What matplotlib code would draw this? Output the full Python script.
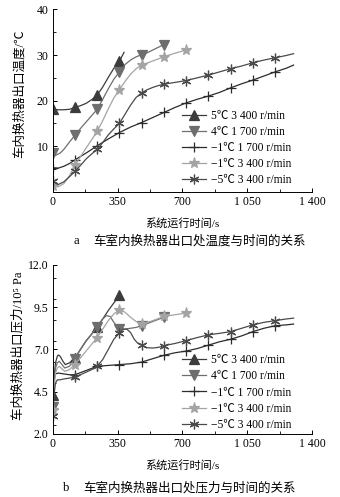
import numpy as np
import matplotlib.pyplot as plt
from matplotlib.ticker import MultipleLocator, FixedLocator

plt.rcParams['font.family'] = ['Liberation Serif', 'Noto Sans CJK SC', 'DejaVu Serif']

labels = ['5℃ 3 400 r/min', '4℃ 1 700 r/min', '−1℃ 1 700 r/min',
          '−1℃ 3 400 r/min', '−5℃ 3 400 r/min']
marker_t = [0, 120, 240, 360, 480, 600, 720, 840, 960, 1080, 1200]

# (a) 温度
t_a1 = [0, 30, 60, 90, 120, 150, 180, 210, 240, 270, 300, 330, 360, 385]
v_a1 = [18.1, 18.0, 18.0, 18.1, 18.5, 18.9, 19.4, 20.2, 21.2, 23.0, 25.1, 27.1, 28.6, 30.6]
t_a2 = [0, 15, 40, 60, 90, 120, 150, 180, 210, 240, 270, 300, 330, 360,
        390, 420, 450, 480, 510, 540, 570, 600]
v_a2 = [8.6, 8.0, 8.5, 9.3, 10.9, 12.4, 13.9, 15.3, 16.7, 18.1, 20.3, 22.6, 24.7, 26.3,
        27.9, 28.9, 29.6, 30.1, 30.5, 31.1, 31.7, 32.3]
t_a3 = [0, 30, 60, 90, 120, 180, 240, 300, 360, 420, 480, 540, 600, 660, 720,
        780, 840, 900, 960, 1020, 1080, 1140, 1200, 1260, 1300]
v_a3 = [5.3, 5.2, 5.6, 6.2, 7.0, 8.5, 10.1, 11.6, 13.0, 14.2, 15.2, 16.3, 17.4, 18.5, 19.5,
        20.3, 21.0, 21.8, 22.8, 23.7, 24.5, 25.4, 26.3, 27.1, 27.8]
t_a4 = [0, 30, 60, 90, 120, 150, 180, 210, 240, 270, 300, 330, 360, 390, 420,
        450, 480, 540, 600, 660, 720]
v_a4 = [1.3, 1.1, 1.8, 3.5, 5.8, 7.7, 9.6, 11.4, 13.3, 15.6, 18.2, 20.6, 22.4, 24.2, 25.8,
        27.0, 27.8, 28.7, 29.6, 30.4, 31.1]
t_a5 = [0, 30, 60, 90, 120, 150, 180, 210, 240, 270, 300, 330, 360, 390, 420, 450,
        480, 510, 540, 570, 600, 660, 720, 780, 840, 900, 960, 1020, 1080, 1140,
        1200, 1260, 1300]
v_a5 = [2.3, 1.6, 2.2, 3.3, 4.5, 5.8, 7.2, 8.3, 9.3, 10.8, 12.5, 13.8, 15.0, 17.0, 19.0, 20.7,
        21.7, 22.4, 22.9, 23.3, 23.6, 24.0, 24.4, 25.0, 25.6, 26.3, 27.0, 27.6, 28.3, 28.9,
        29.4, 29.9, 30.3]

# (b) 压力
t_b1 = [0, 8, 15, 25, 30, 40, 55, 68, 90, 120, 150, 180, 210, 240, 270, 300, 330, 360]
v_b1 = [4.3, 5.4, 6.2, 6.6, 6.67, 6.6, 6.3, 6.1, 6.2, 6.5, 7.0, 7.5, 7.9, 8.35, 8.8, 9.3, 9.75, 10.2]
t_b2 = [0, 8, 15, 25, 35, 50, 65, 90, 120, 150, 180, 210, 240, 270, 290, 310, 330, 360,
        390, 420, 450, 480, 540, 600]
v_b2 = [3.6, 5.0, 5.9, 6.2, 6.3, 6.1, 5.9, 6.0, 6.45, 7.0, 7.5, 7.9, 8.35, 8.8, 9.0, 8.95, 8.6, 8.2,
        8.2, 8.25, 8.3, 8.4, 8.65, 8.9]
t_b3 = [0, 8, 15, 30, 60, 90, 120, 180, 240, 300, 360, 420, 480, 540, 600, 660, 720,
        780, 840, 900, 960, 1020, 1080, 1140, 1200, 1260, 1300]
v_b3 = [3.5, 5.3, 5.55, 5.6, 5.55, 5.5, 5.5, 5.75, 6.0, 6.05, 6.1, 6.15, 6.25, 6.45, 6.65, 6.8, 6.9,
        7.05, 7.25, 7.45, 7.6, 7.8, 8.05, 8.25, 8.4, 8.45, 8.5]
t_b4 = [0, 8, 15, 25, 35, 50, 65, 90, 120, 150, 180, 210, 240, 270, 300, 330, 360, 390,
        420, 450, 480, 540, 600, 660, 720]
v_b4 = [3.4, 4.8, 5.6, 5.9, 6.0, 5.85, 5.7, 5.8, 6.1, 6.5, 6.9, 7.3, 7.7, 8.2, 8.7, 9.1, 9.35, 9.2,
        8.9, 8.65, 8.5, 8.7, 8.95, 9.05, 9.15]
t_b5 = [0, 8, 15, 25, 40, 60, 90, 120, 150, 180, 210, 240, 270, 300, 330, 360, 380, 400,
        420, 440, 460, 480, 510, 540, 570, 600, 660, 720, 780, 840, 900, 960, 1020, 1080,
        1140, 1200, 1260, 1300]
v_b5 = [3.05, 4.4, 5.0, 5.2, 5.2, 5.25, 5.3, 5.35, 5.5, 5.65, 5.8, 6.0, 6.4, 7.0, 7.6, 7.97, 8.2, 8.2,
        8.0, 7.6, 7.35, 7.25, 7.1, 7.08, 7.12, 7.22, 7.35, 7.52, 7.7, 7.86, 7.95, 8.05, 8.25, 8.45,
        8.6, 8.7, 8.8, 8.85]

colors = ['#3c3c3c', '#6e6e6e', '#2c2c2c', '#a4a4a4', '#4a4a4a']
markers = ['^', 'v', '+', '*', (6, 2, 0)]
msizes = [6.5, 6.5, 7, 8, 7]

fig = plt.figure(figsize=(3.4, 4.97), dpi=100)
ax1 = fig.add_axes([0.155, 0.614, 0.763, 0.367])
ax2 = fig.add_axes([0.155, 0.127, 0.763, 0.340])

top = [(t_a1, v_a1), (t_a2, v_a2), (t_a3, v_a3), (t_a4, v_a4), (t_a5, v_a5)]
bot = [(t_b1, v_b1), (t_b2, v_b2), (t_b3, v_b3), (t_b4, v_b4), (t_b5, v_b5)]

for ax, series in [(ax1, top), (ax2, bot)]:
    for i, (t, v) in enumerate(series):
        idx = list(np.where(np.isin(t, marker_t))[0])
        ax.plot(t, v, color=colors[i], lw=0.9, marker=markers[i], ms=msizes[i],
                mec=colors[i], mew=0.9, markevery=idx, label=labels[i])
    ax.spines['top'].set_visible(False)
    ax.spines['right'].set_visible(False)
    ax.spines['left'].set_linewidth(0.7)
    ax.spines['bottom'].set_linewidth(0.7)
    ax.set_xlim(0, 1400)
    ax.set_xticks([0, 350, 700, 1050, 1400])
    ax.set_xticklabels(['0', '350', '700', '1 050', '1 400'])
    ax.xaxis.set_minor_locator(FixedLocator([175, 525, 875, 1225]))
    ax.tick_params(direction='in', length=3, width=0.7, labelsize=8.5, pad=3)
    ax.tick_params(which='minor', direction='in', length=2, width=0.6)
    ax.set_xlabel('系统运行时间/s', fontsize=8, labelpad=7)
    ax.patch.set_alpha(0)

ax1.set_ylim(0, 40)
ax1.set_yticks([10, 20, 30, 40])
ax1.yaxis.set_minor_locator(FixedLocator([5, 15, 25, 35]))
ax1.set_ylabel('车内换热器出口温度/℃', fontsize=9)
ax1.yaxis.set_label_coords(-0.105, 0.54)

ax2.set_ylim(2.0, 12.0)
ax2.set_yticks([2.0, 4.5, 7.0, 9.5, 12.0])
ax2.set_yticklabels(['2.0', '4.5', '7.0', '9.5', '12.0'])
ax2.yaxis.set_minor_locator(MultipleLocator(1.25))
ax2.set_ylabel('车内换热器出口压力/10⁵ Pa', fontsize=9)
ax2.yaxis.set_label_coords(-0.11, 0.52)

for ax, ytop in [(ax1, 0.448), (ax2, 0.47)]:
    ax.legend(loc='upper left', bbox_to_anchor=(0.497, ytop), frameon=False,
              fontsize=8.3, numpoints=1, handlelength=2.1, handletextpad=0.45,
              labelspacing=0.35, borderpad=0, borderaxespad=0)

fig.text(76 / 340, 1 - 241 / 497, 'a', fontsize=9, ha='center', va='center')
fig.text(93 / 340, 1 - 241 / 497, '车室内换热器出口处温度与时间的关系', fontsize=9, ha='left', va='center')
fig.text(66 / 340, 1 - 488 / 497, 'b', fontsize=9, ha='center', va='center')
fig.text(83 / 340, 1 - 488 / 497, '车室内换热器出口处压力与时间的关系', fontsize=9, ha='left', va='center')

fig.savefig('out.png', dpi=100)
